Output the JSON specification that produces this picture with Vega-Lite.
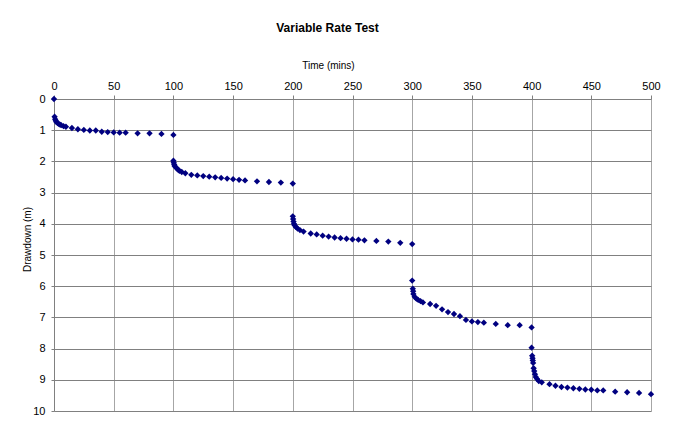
{
  "$schema": "https://vega.github.io/schema/vega-lite/v6.json",
  "width": 597,
  "height": 312,
  "autosize": "none",
  "padding": {"left": 54, "top": 99, "right": 34, "bottom": 15},
  "background": "white",
  "title": {
    "text": "Variable Rate Test",
    "font": "Liberation Sans",
    "fontSize": 12,
    "fontWeight": "bold",
    "color": "black",
    "anchor": "middle",
    "dx": -25,
    "offset": 25
  },
  "config": {
    "view": {"stroke": null},
    "font": "Liberation Sans"
  },
  "data": {
    "values": [
      {"t": 0, "d": 0}, {"t": 0.5, "d": 0.57}, {"t": 1, "d": 0.65}, {"t": 1.5, "d": 0.70}, {"t": 2, "d": 0.74},
      {"t": 3, "d": 0.77}, {"t": 4, "d": 0.80}, {"t": 5, "d": 0.82}, {"t": 6, "d": 0.84}, {"t": 8, "d": 0.87},
      {"t": 10, "d": 0.89}, {"t": 15, "d": 0.93}, {"t": 20, "d": 0.97}, {"t": 25, "d": 0.99}, {"t": 30, "d": 1.01},
      {"t": 35, "d": 1.01}, {"t": 40, "d": 1.05}, {"t": 45, "d": 1.06}, {"t": 50, "d": 1.07}, {"t": 55, "d": 1.08},
      {"t": 60, "d": 1.08}, {"t": 70, "d": 1.10}, {"t": 80, "d": 1.10}, {"t": 90, "d": 1.12}, {"t": 100, "d": 1.15},
      {"t": 100, "d": 1.98}, {"t": 100.3, "d": 2.04}, {"t": 100.7, "d": 2.10}, {"t": 101, "d": 2.15}, {"t": 102, "d": 2.19},
      {"t": 103, "d": 2.23}, {"t": 104, "d": 2.27}, {"t": 105, "d": 2.30}, {"t": 107, "d": 2.34}, {"t": 110, "d": 2.38},
      {"t": 115, "d": 2.43}, {"t": 120, "d": 2.45}, {"t": 125, "d": 2.47}, {"t": 130, "d": 2.49}, {"t": 135, "d": 2.51},
      {"t": 140, "d": 2.53}, {"t": 145, "d": 2.55}, {"t": 150, "d": 2.57}, {"t": 155, "d": 2.59}, {"t": 160, "d": 2.61},
      {"t": 170, "d": 2.64}, {"t": 180, "d": 2.66}, {"t": 190, "d": 2.68}, {"t": 200, "d": 2.71},
      {"t": 200, "d": 3.76}, {"t": 200.3, "d": 3.85}, {"t": 200.6, "d": 3.93}, {"t": 201, "d": 4.00}, {"t": 201.5, "d": 4.05},
      {"t": 202.5, "d": 4.10}, {"t": 204, "d": 4.15}, {"t": 206, "d": 4.20}, {"t": 209, "d": 4.25}, {"t": 215, "d": 4.31},
      {"t": 220, "d": 4.34}, {"t": 225, "d": 4.38}, {"t": 230, "d": 4.41}, {"t": 235, "d": 4.44}, {"t": 240, "d": 4.46},
      {"t": 245, "d": 4.48}, {"t": 250, "d": 4.50}, {"t": 255, "d": 4.51}, {"t": 260, "d": 4.53}, {"t": 270, "d": 4.55},
      {"t": 280, "d": 4.57}, {"t": 290, "d": 4.61}, {"t": 300, "d": 4.65},
      {"t": 300, "d": 5.82}, {"t": 300.5, "d": 6.08}, {"t": 300.8, "d": 6.16}, {"t": 301, "d": 6.25}, {"t": 302, "d": 6.34},
      {"t": 303.5, "d": 6.40}, {"t": 305, "d": 6.44}, {"t": 307, "d": 6.48}, {"t": 309, "d": 6.52}, {"t": 315, "d": 6.57},
      {"t": 320, "d": 6.63}, {"t": 325, "d": 6.74}, {"t": 330, "d": 6.83}, {"t": 335, "d": 6.89}, {"t": 340, "d": 6.96},
      {"t": 345, "d": 7.08}, {"t": 350, "d": 7.13}, {"t": 355, "d": 7.15}, {"t": 360, "d": 7.17}, {"t": 370, "d": 7.21},
      {"t": 380, "d": 7.25}, {"t": 390, "d": 7.25}, {"t": 400, "d": 7.32},
      {"t": 400, "d": 7.97}, {"t": 400.5, "d": 8.23}, {"t": 400.8, "d": 8.31}, {"t": 401, "d": 8.38}, {"t": 401.3, "d": 8.46},
      {"t": 401.7, "d": 8.63}, {"t": 402.2, "d": 8.72}, {"t": 402.8, "d": 8.82}, {"t": 403.5, "d": 8.91}, {"t": 404.5, "d": 8.97},
      {"t": 406, "d": 9.04}, {"t": 408.5, "d": 9.08}, {"t": 415, "d": 9.14}, {"t": 420, "d": 9.19}, {"t": 425, "d": 9.23},
      {"t": 430, "d": 9.25}, {"t": 435, "d": 9.27}, {"t": 440, "d": 9.29}, {"t": 445, "d": 9.31}, {"t": 450, "d": 9.32},
      {"t": 455, "d": 9.34}, {"t": 460, "d": 9.34}, {"t": 470, "d": 9.38}, {"t": 480, "d": 9.40}, {"t": 490, "d": 9.42},
      {"t": 500, "d": 9.46}
    ]
  },
  "mark": {"type": "point", "shape": "diamond", "filled": true, "size": 40, "color": "#000080", "opacity": 1, "clip": false},
  "encoding": {
    "x": {
      "field": "t",
      "type": "quantitative",
      "scale": {"domain": [0, 500], "nice": false, "zero": false},
      "axis": {
        "orient": "top",
        "title": "Time (mins)",
        "values": [0, 50, 100, 150, 200, 250, 300, 350, 400, 450, 500],
        "titleFont": "Liberation Sans",
        "titleFontSize": 10,
        "titleFontWeight": "normal",
        "titleColor": "black",
        "titleX": 274,
        "titlePadding": 10,
        "labelFont": "Liberation Sans",
        "labelFontSize": 11,
        "labelColor": "black",
        "labelPadding": 4,
        "tickSize": 4,
        "tickColor": "#808080",
        "domainColor": "#808080",
        "gridColor": "#a6a6a6",
        "gridOpacity": 1,
        "labelFlush": false,
        "labelOverlap": false
      }
    },
    "y": {
      "field": "d",
      "type": "quantitative",
      "scale": {"domain": [0, 10], "reverse": true, "nice": false, "zero": false},
      "axis": {
        "title": "Drawdown (m)",
        "values": [0, 1, 2, 3, 4, 5, 6, 7, 8, 9, 10],
        "titleFont": "Liberation Sans",
        "titleFontSize": 10,
        "titleFontWeight": "normal",
        "titleColor": "black",
        "titleX": -22,
        "titleY": 140,
        "labelFont": "Liberation Sans",
        "labelFontSize": 11,
        "labelColor": "black",
        "labelPadding": 6,
        "tickSize": 3,
        "tickColor": "#808080",
        "domainColor": "#808080",
        "gridColor": "#808080",
        "gridOpacity": 1,
        "labelFlush": false,
        "labelOverlap": false
      }
    }
  }
}
